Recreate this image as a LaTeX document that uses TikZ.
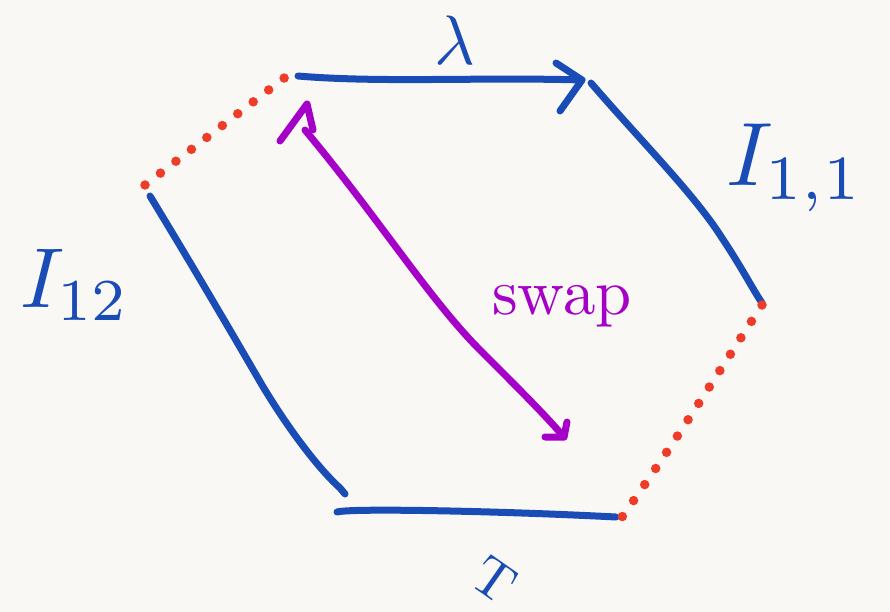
\documentclass[tikz,border=0pt]{standalone}
\usepackage{tikz}
\definecolor{paper}{RGB}{250,248,244}
\definecolor{penblue}{RGB}{26,76,182}
\definecolor{penpurple}{RGB}{165,0,200}
\definecolor{penred}{RGB}{238,60,40}
\tikzset{
  blueline/.style={draw=penblue,line width=7pt,line cap=round,line join=round},
  purpleline/.style={draw=penpurple,line width=7pt,line cap=round,line join=round},
  reddots/.style={draw=penred,line width=9.5pt,line cap=round,dash pattern=on 0pt off 19.5pt},
  bluelabel/.style={text=penblue,inner sep=0pt},
  purplelabel/.style={text=penpurple,inner sep=0pt}
}
\begin{document}
\begin{tikzpicture}[x=1pt,y=-1pt]
\fill[paper] (0,0) rectangle (890,612);
\useasboundingbox (0,0) rectangle (890,612);
% vertices
\coordinate (tl) at (292,72);
\coordinate (a1) at (298,76);
\coordinate (a2) at (582,80);
\coordinate (b1) at (591,83);
\coordinate (b2) at (762,303);
\coordinate (r1) at (762,305);
\coordinate (r2) at (622,517);
\coordinate (c2) at (616,517);
\coordinate (c1) at (337,512);
\coordinate (d2) at (345,494);
\coordinate (d1) at (150,196);
\coordinate (l1) at (145,185);
\coordinate (ha) at (556,63);
\coordinate (hb) at (560,111);
\coordinate (p1) at (305,130);
\coordinate (p2) at (564,437);
\coordinate (pt) at (307,104);
\coordinate (pta) at (280,141);
\coordinate (ptb) at (313,130);
\coordinate (pba) at (567,422);
\coordinate (pbb) at (545,437);
% blue edges
\draw[blueline] (a1) .. controls (380,83) and (480,77) .. (a2);
\draw[blueline] (ha) -- (a2) -- (hb);
\draw[blueline] (b1) .. controls (640,140) and (695,195) .. (722,238) .. controls (742,268) and (752,288) .. (b2);
\draw[blueline] (c1) .. controls (350,508) and (500,511) .. (c2);
\draw[blueline] (d1) .. controls (195,270) and (230,330) .. (262,385) .. controls (292,435) and (322,472) .. (340,488) -- (d2);
% red dotted edges
\draw[reddots] (l1) -- (tl);
\draw[reddots] (r1) .. controls (720,370) and (670,450) .. (r2);
% purple swap arrow
\draw[purpleline] (p1) .. controls (380,220) and (430,300) .. (480,350) .. controls (520,390) and (545,415) .. (p2);
\draw[purpleline] (pta) -- (pt) -- (ptb);
\draw[purpleline] (pba) -- (p2) -- (pbb);
% labels
\node[bluelabel,scale=7] (lam) at (455,40) {$\lambda$};
\node[bluelabel,scale=9] (i11) at (795,168) {$I_{1,1}$};
\node[bluelabel,scale=8.5] (i12) at (75,285) {$I_{12}$};
\node[purplelabel,scale=6.5] (swap) at (562,306) {swap};
\node[bluelabel,scale=5.5,rotate=-35] (t) at (494,580) {T};
\end{tikzpicture}
\end{document}
